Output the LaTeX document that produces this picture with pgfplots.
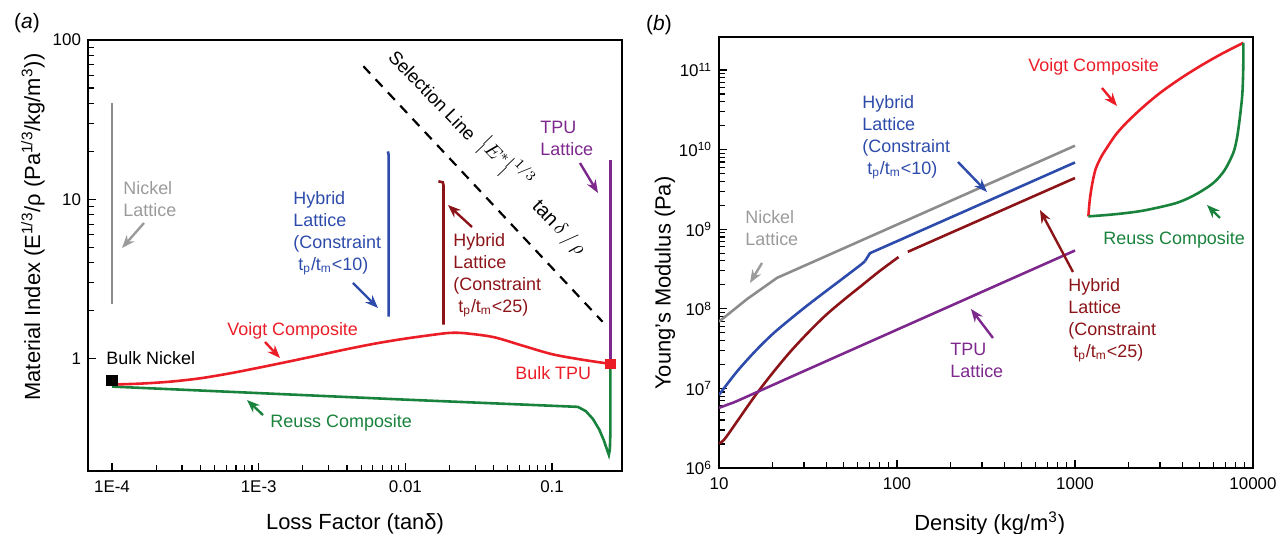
\documentclass[border=0pt]{standalone}
\usepackage{pgfplots}
\pgfplotsset{compat=1.18}
\usepackage{fontspec}
\setmainfont{Liberation Sans}
\usetikzlibrary{arrows.meta}

\definecolor{cgray}{RGB}{140,140,140}
\definecolor{cgraytxt}{RGB}{155,155,155}
\definecolor{cblue}{RGB}{45,75,170}
\definecolor{cdred}{RGB}{140,20,25}
\definecolor{cpurple}{RGB}{125,40,140}
\definecolor{cred}{RGB}{235,30,40}
\definecolor{cgreen}{RGB}{25,130,60}

\tikzset{
  ann/.style={font=\fontsize{9}{11}\selectfont, anchor=west, inner sep=0pt, align=left},
  arr/.style={line width=1.2pt, -{Stealth[length=6.5bp, width=5bp]}},
}

\begin{document}
\begin{tikzpicture}
\useasboundingbox (0,0) rectangle (640bp,-267bp);

% ---------------- (a) ----------------
\begin{axis}[
  scale only axis, width=267bp, height=215.5bp,
  xmode=log, ymode=log,
  tick pos=left,
  axis line style={line width=0.9pt},
  tick style={line width=0.6pt, black},
  ticklabel style={font=\fontsize{8.5}{10}\selectfont},
  xticklabel style={yshift=-1.5bp},
  label style={font=\fontsize{11}{13}\selectfont},
  at={(44bp,-235.5bp)}, anchor=south west,
  xmin=6.86e-5, xmax=0.30, ymin=0.198, ymax=100,
  xtick={1e-4,1e-3,1e-2,1e-1}, xticklabels={1E-4,1E-3,0.01,0.1},
  ytick={1,10,100}, yticklabels={1,10,100},
  xlabel={Loss Factor (tanδ)},
  ylabel={Material Index (E\textsuperscript{1/3}/ρ (Pa\textsuperscript{1/3}/kg/m\textsuperscript{3}))},
  xlabel style={at={(axis description cs:0.5,-0.123)}, anchor=center},
  ylabel style={at={(axis description cs:-0.103,0.566)}, anchor=center},
]
% selection line
\addplot[black, line width=1.1pt, dash pattern=on 5bp off 4bp] coordinates {(0.00517,68.5) (0.221,1.71)};
% Nickel lattice
\addplot[cgray, line width=1.3pt] coordinates {(1e-4,2.2) (1e-4,40)};
% Hybrid lattice tp/tm<10
\addplot[cblue, line width=1.3pt] coordinates {(0.0077,1.84) (0.0077,19) (0.0076,20)};
% Hybrid lattice tp/tm<25
\addplot[cdred, line width=1.3pt] coordinates {(0.0168,13.0) (0.0180,12.8) (0.0182,12.3) (0.0182,1.64)};
% Reuss
\addplot[cgreen, line width=1.3pt] coordinates {(1e-4,0.67) (1e-3,0.61) (0.01,0.555) (0.15,0.50) (0.17,0.47) (0.19,0.42) (0.21,0.36) (0.225,0.31) (0.237,0.27) (0.244,0.25) (0.248,0.27) (0.25,0.35) (0.25,0.93)};
% TPU lattice
\addplot[cpurple, line width=1.3pt] coordinates {(0.25,0.90) (0.25,17.6)};
% Voigt
\addplot[cred, line width=1.3pt, smooth] coordinates {(1e-4,0.690) (1.585e-4,0.700) (2.512e-4,0.720) (3.981e-4,0.755) (6.31e-4,0.810) (1e-3,0.880) (1.585e-3,0.960) (2.512e-3,1.050) (3.981e-3,1.150) (6.31e-3,1.250) (0.01,1.340) (0.01585,1.420) (0.02,1.455) (0.02512,1.45) (0.03981,1.37) (0.0631,1.21) (0.1,1.07) (0.1585,0.99) (0.25,0.93)};
% bulk points
\addplot[only marks, mark=square*, mark size=2.6bp, black] coordinates {(1e-4,0.73)};
\addplot[only marks, mark=square*, mark size=2.3bp, cred] coordinates {(0.25,0.93)};
\end{axis}

% ---------------- (b) ----------------
\begin{axis}[
  scale only axis, width=267bp, height=215.5bp,
  xmode=log, ymode=log,
  tick pos=left,
  axis line style={line width=0.9pt},
  tick style={line width=0.6pt, black},
  ticklabel style={font=\fontsize{8.5}{10}\selectfont},
  xticklabel style={yshift=-1.5bp},
  label style={font=\fontsize{11}{13}\selectfont},
  at={(359.5bp,-234bp)}, anchor=south west,
  xmin=10, xmax=10000, ymin=1e6, ymax=2.6e11,
  xtick={10,100,1000,10000}, xticklabels={10,100,1000,10000},
  ytick={1e6,1e7,1e8,1e9,1e10,1e11},
  yticklabels={10\textsuperscript{6},10\textsuperscript{7},10\textsuperscript{8},10\textsuperscript{9},10\textsuperscript{10},10\textsuperscript{11}},
  xlabel={Density (kg/m\textsuperscript{3})},
  ylabel={Young's Modulus (Pa)},
  xlabel style={at={(axis description cs:0.507,-0.128)}, anchor=center},
  ylabel style={at={(axis description cs:-0.101,0.429)}, anchor=center},
]
% Nickel lattice
\addplot[cgray, line width=1.3pt] coordinates {(10,6.9e7) (14.4,1.33e8) (21.2,2.45e8) (1000,1.12e10)};
% Hybrid tp/tm<10
\addplot[cblue, line width=1.3pt, smooth] coordinates {(10,8.3e6) (12.59,1.62e7) (15.85,2.88e7) (19.95,4.79e7) (25.12,7.41e7) (31.62,1.12e8) (39.81,1.66e8) (50.12,2.45e8) (63.1,3.63e8) (66.1,3.98e8)};
\addplot[cblue, line width=1.3pt] coordinates {(66.1,3.98e8) (70.5,5.0e8) (1000,6.9e9)};
% Hybrid tp/tm<25
\addplot[cdred, line width=1.3pt, smooth] coordinates {(10,2.04e6) (10.72,2.29e6) (12.59,3.80e6) (15.85,7.94e6) (19.95,1.55e7) (25.12,2.88e7) (31.62,5.01e7) (39.81,8.32e7) (50.12,1.29e8) (63.1,1.95e8) (79.4,2.95e8) (102,4.47e8)};
\addplot[cdred, line width=1.3pt] coordinates {(115,5.2e8) (1000,4.4e9)};
% TPU lattice
\addplot[cpurple, line width=1.3pt, smooth] coordinates {(10,5.7e6) (11.5,6.4e6) (13.1,7.2e6) (30,1.65e7) (1000,5.4e8)};
% Voigt
\addplot[cred, line width=1.3pt, smooth] coordinates {(1189,1.45e9) (1208,2.24e9) (1245,3.55e9) (1303,5.62e9) (1396,7.94e9) (1507,1.047e10) (1698,1.55e10) (1950,2.19e10) (2399,3.39e10) (3006,5.16e10) (3890,7.76e10) (5035,1.117e11) (6607,1.58e11) (8830,2.2e11)};
% Reuss
\addplot[cgreen, line width=1.3pt, smooth] coordinates {(1189,1.45e9) (1514,1.51e9) (1950,1.6e9) (2512,1.74e9) (3724,2.14e9) (4786,2.75e9) (5984,3.81e9) (6918,5.5e9) (7745,9.08e9) (8128,1.4e10) (8453,2.62e10) (8710,5.0e10) (8810,1.0e11) (8830,2.2e11)};
\end{axis}

% ---------------- annotations (pixel coordinates) ----------------
\begin{scope}[x=0.5bp, y=-0.5bp]
\node[font=\fontsize{10.5}{12}\selectfont] at (27,23) {(\textit{a})};
\node[font=\fontsize{10.5}{12}\selectfont] at (659,25) {(\textit{b})};

% (a)
\node[ann, text=cgraytxt] at (123,199) {Nickel\\Lattice};
\draw[arr, cgraytxt] (144,223) -- (122,248);
\node[ann, text=cblue] at (293,233) {Hybrid\\Lattice\\(Constraint\\\ t\textsubscript{p}/t\textsubscript{m}<10)};
\draw[arr, cblue] (353,283) -- (378,308);
\node[ann, text=cdred] at (453,275) {Hybrid\\Lattice\\(Constraint\\\ t\textsubscript{p}/t\textsubscript{m}<25)};
\draw[arr, cdred] (472,227) -- (448,205);
\node[ann, text=cpurple] at (540,138) {TPU\\Lattice};
\draw[arr, cpurple] (580,163) -- (598,193);
\node[ann, text=cred] at (227,331) {Voigt Composite};
\draw[arr, cred] (265,342) -- (280,358);
\node[ann, text=cgreen] at (270,423) {Reuss Composite};
\draw[arr, cgreen] (263,415) -- (247,400);
\node[ann] at (106,358) {Bulk Nickel};
\node[ann, text=cred] at (515,373) {Bulk TPU};
\node[rotate=-46, anchor=base west, inner sep=0pt, font=\fontsize{9.3}{11}\selectfont] at (387,58)
  {Selection Line\hspace{5bp}\raisebox{2.5bp}{\fontsize{10}{12}\selectfont$\bigl|E^{*}\bigr|^{1/3}$}\hspace{9bp}{\fontsize{10}{12}\selectfont$\tan\delta\,/\,\rho$}};

% (b)
\node[ann, text=cblue] at (862,137) {Hybrid\\Lattice\\(Constraint\\\ t\textsubscript{p}/t\textsubscript{m}<10)};
\draw[arr, cblue] (958,162) -- (987,192);
\node[ann, text=cgraytxt] at (745,228) {Nickel\\Lattice};
\draw[arr, cgraytxt] (762,263) -- (750,283);
\node[ann, text=cpurple] at (950,360) {TPU\\Lattice};
\draw[arr, cpurple] (993,338) -- (971,309);
\node[ann, text=cdred] at (1068,320) {Hybrid\\Lattice\\(Constraint\\\ t\textsubscript{p}/t\textsubscript{m}<25)};
\draw[arr, cdred] (1073,272) -- (1040,210);
\node[ann, text=cred] at (1028,67) {Voigt Composite};
\draw[arr, cred] (1102,88) -- (1117,106);
\node[ann, text=cgreen] at (1103,240) {Reuss Composite};
\draw[arr, cgreen] (1220,218) -- (1207,205);
\end{scope}
\end{tikzpicture}
\end{document}
